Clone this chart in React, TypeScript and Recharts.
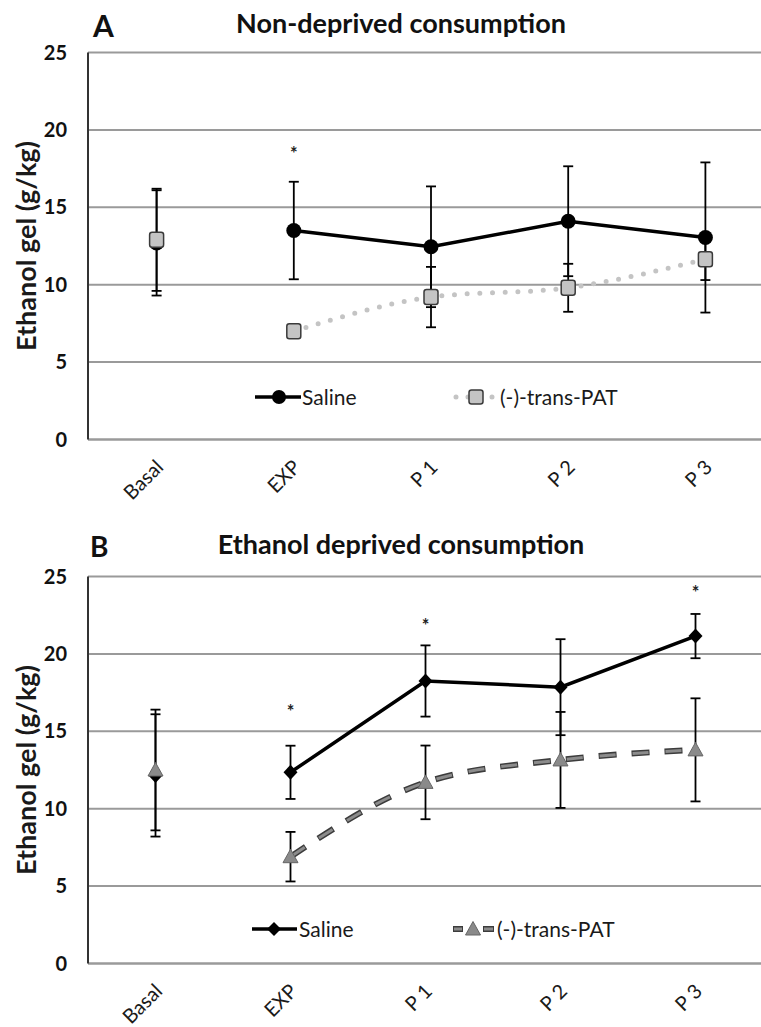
import React from 'react';
import { LineChart, Line, XAxis, YAxis, CartesianGrid, ErrorBar, Legend } from 'recharts';

// ---------- data ----------
const categories = ['Basal', 'EXP', 'P 1', 'P 2', 'P 3'];
const yTicks = [0, 5, 10, 15, 20, 25];
const seriesNames = ['Saline', '(-)-trans-PAT'];
const panelLetters = ['A', 'B'];
const panelTitles = ['Non-deprived consumption', 'Ethanol deprived consumption'];
const yAxisTitle = 'Ethanol gel (g/kg)';

// Panel A: non-deprived
const salineA = [12.7, 13.5, 12.45, 14.1, 13.05];
const salineErrA = [3.4, 3.15, 3.9, 3.55, 4.85];
const patA = [12.9, 7.0, 9.2, 9.8, 11.65];
const patErrA = [3.3, 0.4, 1.95, 1.55, 1.35];
const starsA = [null, 18.7, null, null, null];

// Panel B: ethanol deprived
const salineB = [12.15, 12.35, 18.25, 17.85, 21.15];
const salineErrB = [3.95, 1.72, 2.3, 3.1, 1.43];
const patB = [12.5, 6.9, 11.7, 13.15, 13.8];
const patErrB = [3.9, 1.6, 2.38, 3.1, 3.33];
const starsB = [null, 16.5, 22.05, null, 24.2];

function buildRows(saline: number[], salineErr: number[], pat: number[], patErr: number[], stars: (number | null)[]) {
  return categories.map((c, i) => ({
    cat: c,
    salineLine: i === 0 ? null : saline[i],
    salineLineErr: i === 0 ? null : salineErr[i],
    salineFirst: i === 0 ? saline[i] : null,
    salineFirstErr: i === 0 ? salineErr[i] : null,
    patLine: i === 0 ? null : pat[i],
    patLineErr: i === 0 ? null : patErr[i],
    patFirst: i === 0 ? pat[i] : null,
    patFirstErr: i === 0 ? patErr[i] : null,
    star: stars[i],
  }));
}

const rowsA = buildRows(salineA, salineErrA, patA, patErrA, starsA);
const rowsB = buildRows(salineB, salineErrB, patB, patErrB, starsB);

// ---------- styling ----------
const FONT = 'Lato, "Liberation Sans", sans-serif';
const GRID = '#9a9a9a';
const SQUARE_FILL = '#c4c4c4';
const TRI_FILL = '#8a8a8a';

const circleDot = (p: any) => {
  if (p.cy == null || p.value == null) return <g key={`c${p.index}`} />;
  return <circle key={`c${p.index}`} cx={p.cx} cy={p.cy} r={7.5} fill="#000" />;
};
const squareDot = (p: any) => {
  if (p.cy == null || p.value == null) return <g key={`s${p.index}`} />;
  return (
    <rect key={`s${p.index}`} x={p.cx - 7} y={p.cy - 7.5} width={14} height={15} rx={2.5}
      fill={SQUARE_FILL} stroke="#3a3a3a" strokeWidth={1.5} />
  );
};
const diamondDot = (p: any) => {
  if (p.cy == null || p.value == null) return <g key={`d${p.index}`} />;
  const { cx, cy } = p;
  return <path key={`d${p.index}`} d={`M${cx},${cy - 7.5}L${cx + 7},${cy}L${cx},${cy + 7.5}L${cx - 7},${cy}Z`} fill="#000" />;
};
const triangleDot = (p: any) => {
  if (p.cy == null || p.value == null) return <g key={`t${p.index}`} />;
  const { cx, cy } = p;
  return (
    <path key={`t${p.index}`} d={`M${cx},${cy - 7.5}L${cx + 7.5},${cy + 6}L${cx - 7.5},${cy + 6}Z`}
      fill={TRI_FILL} stroke="#666" strokeWidth={1} />
  );
};
const starDot = (p: any) => {
  if (p.cy == null || p.value == null) return <g key={`a${p.index}`} />;
  return (
    <text key={`a${p.index}`} x={p.cx} y={p.cy + 10} textAnchor="middle" fontFamily={FONT} fontSize={18}
      fontWeight={700} fill="#222">*</text>
  );
};

const renderXTick = (p: any) => (
  <text x={0} y={0} transform={`translate(${p.x + 8},${p.y + 29}) rotate(-45)`} textAnchor="end"
    fontFamily={FONT} fontSize={20} fill="#1a1a1a">
    {p.payload.value}
  </text>
);

const YLabel = (p: any) => {
  const vb = p.viewBox || { x: 0, y: 0, width: 0, height: 0 };
  const cx = vb.x + 25;
  const cy = vb.y + vb.height / 2;
  return (
    <text x={cx} y={cy} transform={`rotate(-90, ${cx}, ${cy})`} textAnchor="middle" dominantBaseline="central"
      fontFamily={FONT} fontSize={27} fontWeight={700} fill="#1a1a1a">
      {yAxisTitle}
    </text>
  );
};

const legendText: React.CSSProperties = { fontFamily: FONT, fontSize: 21, color: '#1a1a1a', lineHeight: '30px', whiteSpace: 'nowrap' };

const LegendA = () => (
  <div style={{ position: 'relative', width: 800, height: 30 }}>
    <div style={{ position: 'absolute', left: 255, top: 0, display: 'flex', alignItems: 'center' }}>
      <svg width={47} height={30}>
        <line x1={0} y1={15} x2={46} y2={15} stroke="#000" strokeWidth={3.5} />
        <circle cx={24} cy={15} r={7} fill="#000" />
      </svg>
      <span style={legendText}>{seriesNames[0]}</span>
    </div>
    <div style={{ position: 'absolute', left: 452, top: 0, display: 'flex', alignItems: 'center' }}>
      <svg width={48} height={30}>
        <line x1={4} y1={15} x2={46} y2={15} stroke={SQUARE_FILL} strokeWidth={5} strokeDasharray="0 12" strokeLinecap="round" />
        <rect x={17} y={8} width={14} height={14} rx={2.5} fill={SQUARE_FILL} stroke="#3a3a3a" strokeWidth={1.5} />
      </svg>
      <span style={legendText}>{seriesNames[1]}</span>
    </div>
  </div>
);

const LegendB = () => (
  <div style={{ position: 'relative', width: 800, height: 30 }}>
    <div style={{ position: 'absolute', left: 252, top: 0, display: 'flex', alignItems: 'center' }}>
      <svg width={47} height={30}>
        <line x1={0} y1={15} x2={45} y2={15} stroke="#000" strokeWidth={3.5} />
        <path d="M22,8L29,15L22,22L15,15Z" fill="#000" />
      </svg>
      <span style={legendText}>{seriesNames[0]}</span>
    </div>
    <div style={{ position: 'absolute', left: 449, top: 0, display: 'flex', alignItems: 'center' }}>
      <svg width={48} height={30}>
        <line x1={4} y1={15} x2={14} y2={15} stroke="#3c3c3c" strokeWidth={6} />
        <line x1={5} y1={15} x2={13} y2={15} stroke="#8c8c8c" strokeWidth={3} />
        <line x1={34} y1={15} x2={45} y2={15} stroke="#3c3c3c" strokeWidth={6} />
        <line x1={35} y1={15} x2={44} y2={15} stroke="#8c8c8c" strokeWidth={3} />
        <path d="M24,7.5L31.5,21L16.5,21Z" fill={TRI_FILL} stroke="#666" strokeWidth={1} />
      </svg>
      <span style={legendText}>{seriesNames[1]}</span>
    </div>
  </div>
);

type PanelProps = {
  rows: any[];
  kind: 'A' | 'B';
  height: number;
  margin: { top: number; right: number; bottom: number; left: number };
  xAxisHeight: number;
  xPad: number;
  legendTop: number;
};

function Panel({ rows, kind, height, margin, xAxisHeight, xPad, legendTop }: PanelProps) {
  const isA = kind === 'A';
  return (
    <LineChart width={800} height={height} data={rows} margin={margin}>
      <CartesianGrid vertical={false} stroke={GRID} strokeWidth={2} />
      <XAxis dataKey="cat" padding={{ left: xPad, right: xPad }} height={xAxisHeight} tickLine={false}
        tickSize={0} tickMargin={0} axisLine={{ stroke: GRID, strokeWidth: 2 }} tick={renderXTick} interval={0} />
      <YAxis domain={[0, 25]} ticks={yTicks} width={88} tickLine={false} tickSize={0} tickMargin={21}
        axisLine={{ stroke: '#333', strokeWidth: 2 }} interval={0}
        tick={{ fontFamily: FONT, fontSize: 20, fontWeight: 700, fill: '#111' }} label={<YLabel />} />
      <Legend layout="horizontal" verticalAlign="middle" align="center"
        wrapperStyle={{ left: 0, top: legendTop, width: 800, height: 30 }}
        content={isA ? <LegendA /> : <LegendB />} />

      <Line dataKey="salineLine" stroke="#000" strokeWidth={3.5} dot={isA ? circleDot : diamondDot}
        activeDot={false} isAnimationActive={false} legendType="none">
        <ErrorBar dataKey="salineLineErr" width={5} strokeWidth={1.8} stroke="#000" direction="y" />
      </Line>
      <Line dataKey="salineFirst" stroke="none" dot={isA ? circleDot : diamondDot}
        activeDot={false} isAnimationActive={false} legendType="none">
        <ErrorBar dataKey="salineFirstErr" width={5} strokeWidth={1.8} stroke="#000" direction="y" />
      </Line>

      {isA ? (
        <Line type="monotone" dataKey="patLine" stroke={SQUARE_FILL} strokeWidth={5} strokeDasharray="0 12.7" strokeLinecap="round"
          dot={squareDot} activeDot={false} isAnimationActive={false} legendType="none">
          <ErrorBar dataKey="patLineErr" width={5} strokeWidth={1.8} stroke="#000" direction="y" />
        </Line>
      ) : (
        <Line type="monotone" dataKey="patLine" stroke="#3c3c3c" strokeWidth={6} strokeDasharray="18 15"
          dot={false} activeDot={false} isAnimationActive={false} legendType="none" />
      )}
      {!isA && (
        <Line type="monotone" dataKey="patLine" stroke="#8c8c8c" strokeWidth={3} strokeDasharray="16 17" strokeDashoffset={-1}
          dot={triangleDot} activeDot={false} isAnimationActive={false} legendType="none">
          <ErrorBar dataKey="patLineErr" width={5} strokeWidth={1.8} stroke="#000" direction="y" />
        </Line>
      )}
      <Line dataKey="patFirst" stroke="none" dot={isA ? squareDot : triangleDot}
        activeDot={false} isAnimationActive={false} legendType="none">
        <ErrorBar dataKey="patFirstErr" width={5} strokeWidth={1.8} stroke="#000" direction="y" />
      </Line>
      <Line dataKey="star" stroke="none" dot={starDot} activeDot={false} isAnimationActive={false} legendType="none" />
    </LineChart>
  );
}

export default function App() {
  return (
    <div style={{ position: 'absolute', left: 0, top: 0, width: 761, height: 1027, overflow: 'hidden', background: '#fff' }}>
      <div style={{ position: 'absolute', left: 0, top: 0 }}>
        <Panel rows={rowsA} kind="A" height={520} margin={{ top: 52.5, right: 26, bottom: 20.5, left: 0 }}
          xAxisHeight={60} xPad={68.6} legendTop={382} />
      </div>
      <div style={{ position: 'absolute', left: 0, top: 520 }}>
        <Panel rows={rowsB} kind="B" height={507} margin={{ top: 56.5, right: 37, bottom: 13.5, left: 0 }}
          xAxisHeight={50} xPad={67.5} legendTop={394} />
      </div>
      <svg width={761} height={1027} style={{ position: 'absolute', left: 0, top: 0, pointerEvents: 'none' }}>
        <text x={93} y={37} fontFamily={FONT} fontSize={30} fontWeight={700} fill="#111">{panelLetters[0]}</text>
        <text x={401} y={33} textAnchor="middle" fontFamily={FONT} fontSize={27} fontWeight={700} fill="#111">{panelTitles[0]}</text>
        <text x={90} y={557} fontFamily={FONT} fontSize={28} fontWeight={700} fill="#111">{panelLetters[1]}</text>
        <text x={401} y={554} textAnchor="middle" fontFamily={FONT} fontSize={27} fontWeight={700} fill="#111">{panelTitles[1]}</text>
      </svg>
    </div>
  );
}
